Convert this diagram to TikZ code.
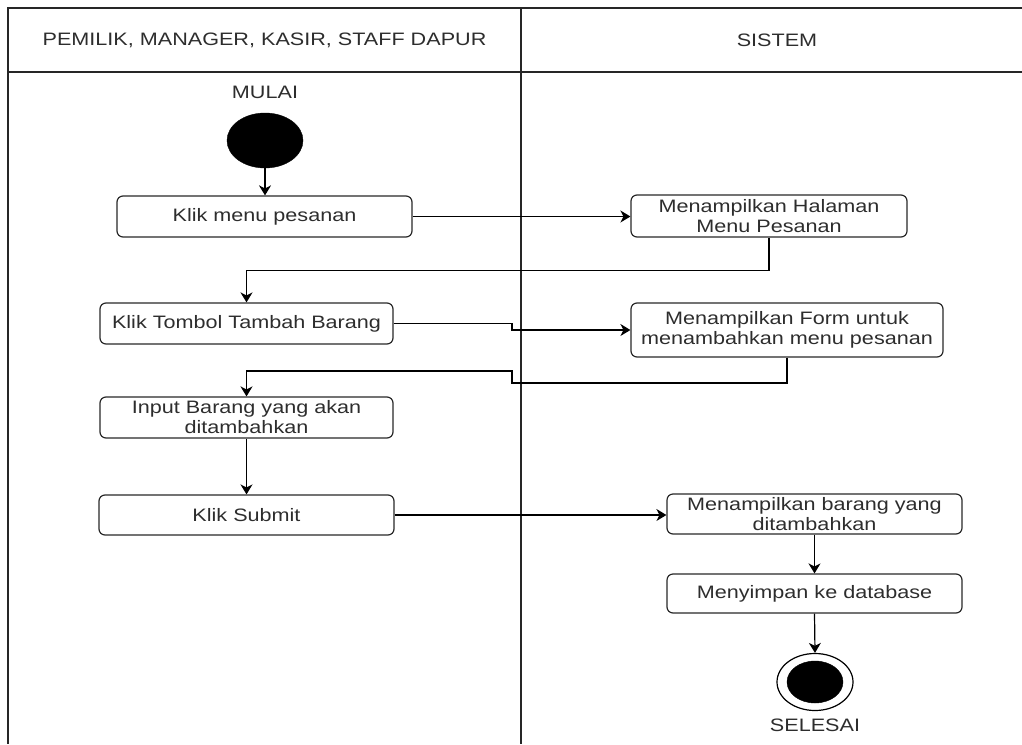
\documentclass[tikz,border=0pt]{standalone}
\usepackage{fontspec}
\setmainfont{Liberation Sans}[FakeStretch=1.2]
\usetikzlibrary{arrows.meta,shapes.geometric}
\definecolor{txt}{RGB}{45,45,45}
\definecolor{bord}{RGB}{40,40,40}
\begin{document}
\begin{tikzpicture}[x=1pt,y=-1pt,
  lane/.style={draw=black!85, line width=1.5pt},
  box/.style={draw=bord, line width=1.2pt, rounded corners=6pt, align=center,
    font=\fontsize{18}{20}\selectfont, text=txt, inner sep=0pt},
  lbl/.style={font=\fontsize{18}{20}\selectfont, text=txt, inner sep=0pt},
  arr/.style={draw=black, line width=1.2pt, -{Stealth[length=10pt,width=12pt,inset=3pt]}},
  dot/.style={ellipse, fill=black, draw=black, inner sep=0pt}]
\useasboundingbox (0,0) rectangle (1022,744);
% swimlane frame
\draw[lane] (1022,8) -- (8,8) -- (8,744);
\draw[lane] (8,72) -- (1022,72);
\draw[lane] (521,8) -- (521,744);
\node[lbl] (h1) at (264.5,40) {PEMILIK, MANAGER, KASIR, STAFF DAPUR};
\node[lbl] (h2) at (777,40) {SISTEM};
% start
\node[lbl] (mulai) at (265,92) {MULAI};
\node[dot, minimum width=76pt, minimum height=55pt] (start) at (265,140.5) {};
% left lane
\node[box, minimum width=295pt, minimum height=41pt] (b1) at (264.5,216.5) {Klik menu pesanan};
\node[box, minimum width=293pt, minimum height=41pt] (b2) at (246.5,323.5) {Klik Tombol Tambah Barang};
\node[box, minimum width=293pt, minimum height=41pt] (b3) at (246.5,417.5) {Input Barang yang akan\\ditambahkan};
\node[box, minimum width=295pt, minimum height=40pt] (b4) at (246.5,515) {Klik Submit};
% right lane
\node[box, minimum width=276pt, minimum height=42pt] (s1) at (769,216) {Menampilkan Halaman\\Menu Pesanan};
\node[box, minimum width=312pt, minimum height=54pt] (s2) at (787,330) {Menampilkan Form untuk\\menambahkan menu pesanan};
\node[box, minimum width=295pt, minimum height=40pt] (s3) at (814.5,514) {Menampilkan barang yang\\ditambahkan};
\node[box, minimum width=295pt, minimum height=39pt] (s4) at (814.5,593.5) {Menyimpan ke database};
% end
\node[ellipse, draw=black, line width=1.2pt, minimum width=76pt, minimum height=57pt, inner sep=0pt] (end) at (815,682) {};
\node[dot, minimum width=56pt, minimum height=42pt] (endin) at (815,682) {};
\node[lbl] (selesai) at (815,725) {SELESAI};
% jog coordinates
\coordinate (j1) at (512,323.5);
\coordinate (j2) at (512,330);
\coordinate (k1) at (512,383);
\coordinate (k2) at (512,371);
% connectors
\draw[arr] (start.south) -- (start.south |- b1.north);
\draw[arr] (b1.east) -- (b1.east -| s1.west);
\draw[arr] (s1.south) -- ++(0,33) -| (b2.north);
\draw[arr] (b2.east) -- (j1) -- (j2) -- (s2.west);
\draw[arr] (s2.south) |- (k1) -- (k2) -| (b3.north);
\draw[arr] (b3.south) -- (b3.south |- b4.north);
\draw[arr] (b4.east) -- (b4.east -| s3.west);
\draw[arr] (s3.south) -- (s4.north);
\draw[arr] (s4.south) -- (end.north);
\end{tikzpicture}
\end{document}
